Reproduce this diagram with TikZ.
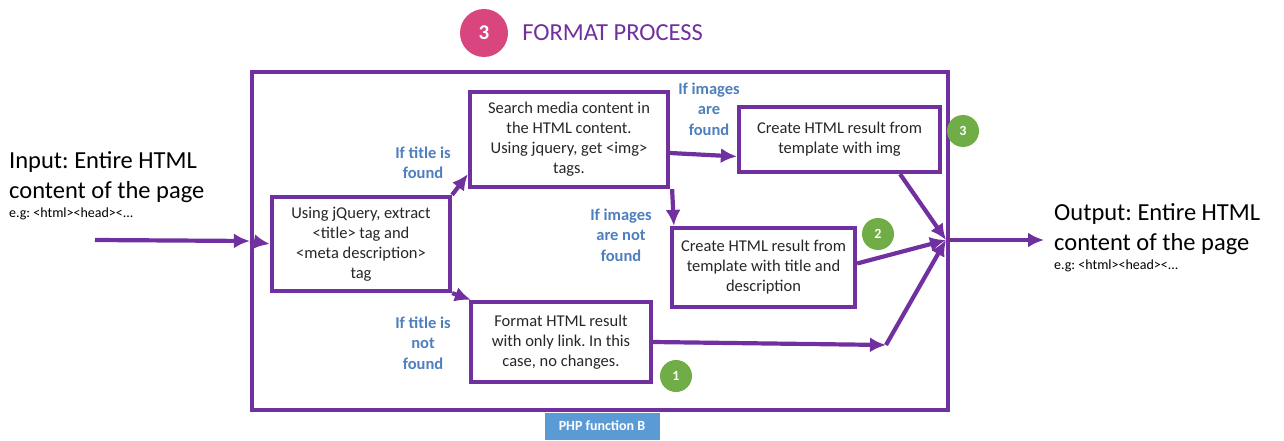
\documentclass[tikz,border=0pt]{standalone}
\usepackage{fontspec}
\setmainfont{Carlito}
\usetikzlibrary{arrows.meta,positioning}
\frenchspacing

\definecolor{fpurple}{HTML}{7030A0}
\definecolor{fblue}{HTML}{4F7FBD}
\definecolor{fgreen}{HTML}{70AD47}
\definecolor{fpink}{HTML}{D9457E}
\definecolor{phpblue}{HTML}{5B9BD5}

\begin{document}
\begin{tikzpicture}[x=1pt,y=-1pt,
  box/.style={draw=fpurple,line width=4.2pt,align=center,inner sep=0pt,text=black!85,
    font=\fontsize{16.5}{20}\selectfont},
  lbl/.style={text=fblue,align=center,font=\bfseries\fontsize{16.5}{20.5}\selectfont},
  flow/.style={draw=fpurple,line width=4.2pt,-{Latex[length=16pt,width=15pt]}},
  num/.style={circle,fill=fgreen,text=white,minimum size=32pt,inner sep=0pt,
    font=\bfseries\fontsize{14}{14}\selectfont},
  side/.style={anchor=north west,align=left,inner sep=0pt,font=\fontsize{24.5}{30}\selectfont}]

  \useasboundingbox (0,0) rectangle (1284,441);

% Titre
  \node[circle,fill=fpink,text=white,minimum size=48pt,inner sep=0pt,
        font=\bfseries\fontsize{21}{21}\selectfont] (tnum) at (484,33) {3};
  \node[right=14pt of tnum,inner sep=0pt,text=fpurple,font=\fontsize{24.5}{24.5}\selectfont] (ttl) {FORMAT PROCESS};

% Cadre
  \node[draw=fpurple,line width=4.2pt,minimum width=696pt,minimum height=338pt] (frame) at (600,241) {};
  \node[fill=phpblue,text=white,minimum width=115pt,minimum height=27pt,inner sep=0pt,
        font=\bfseries\fontsize{14}{14}\selectfont] (php) at (602,426) {PHP function B};

% Boites
  \node[box,minimum width=178pt,minimum height=94pt] (extract) at (361,244)
    {Using jQuery, extract\\<title> tag and\\<meta description>\\tag};
  \node[box,minimum width=198pt,minimum height=95pt] (search) at (569,139.5)
    {Search media content in\\the HTML content.\\Using jquery, get <img>\\tags.};
  \node[box,minimum width=201pt,minimum height=65pt] (withimg) at (839.5,139.5)
    {Create HTML result from\\template with img};
  \node[box,minimum width=183pt,minimum height=79pt] (withdesc) at (763.5,267.5)
    {Create HTML result from\\template with title and\\description};
  \node[box,minimum width=180pt,minimum height=80pt] (onlylink) at (561,342)
    {Format HTML result\\with only link. In this\\case, no changes.};

% Numeros
  \node[num] (n3) at (963,131) {3};
  \node[num] (n2) at (878,234) {2};
  \node[num] (n1) at (676,376) {1};

% Conditions
  \node[lbl] (tfound) at (423,163) {If title is\\found};
  \node[lbl] (ifound) at (709,109) {If images\\are\\found};
  \node[lbl] (inot) at (621,235) {If images\\are not\\found};
  \node[lbl] (tnot) at (423,343) {If title is\\not\\found};

% Entree / sortie
  \node[side] (input) at (9,151)
    {Input: Entire HTML\\content of the page\\[-11pt]{\fontsize{14}{16}\selectfont e.g: <html><head><...}};
  \node[side] (output) at (1054,203)
    {Output: Entire HTML\\content of the page\\[-11pt]{\fontsize{14}{16}\selectfont e.g: <html><head><...}};

  \coordinate (instart) at (95,240);
  \coordinate (merge) at (946,240);
  \coordinate (corner) at (886,345);
  \coordinate (outend) at (1044,240);

% Fleches
  \draw[flow] (instart) -- (frame.west);
  \draw[flow] (frame.west) -- (extract.west);
  \draw[flow] (extract.north east) -- ([yshift=15pt]search.south west);
  \draw[flow] (extract.south east) -- ([xshift=2pt]onlylink.north west);
  \draw[flow] ([yshift=-13.5pt]search.east) -- ([yshift=-17pt]withimg.west);
  \draw[flow] ([xshift=2pt]search.south east) -- ([xshift=4pt]withdesc.north west);
  \draw[flow] ([xshift=-42pt]withimg.south east) -- (merge);
  \draw[flow] ([yshift=4pt]withdesc.east) -- (merge);
  \draw[flow] (onlylink.east) -- (corner);
  \draw[flow] (corner) -- (merge);
  \draw[flow] (merge) -- (outend);

\end{tikzpicture}
\end{document}
